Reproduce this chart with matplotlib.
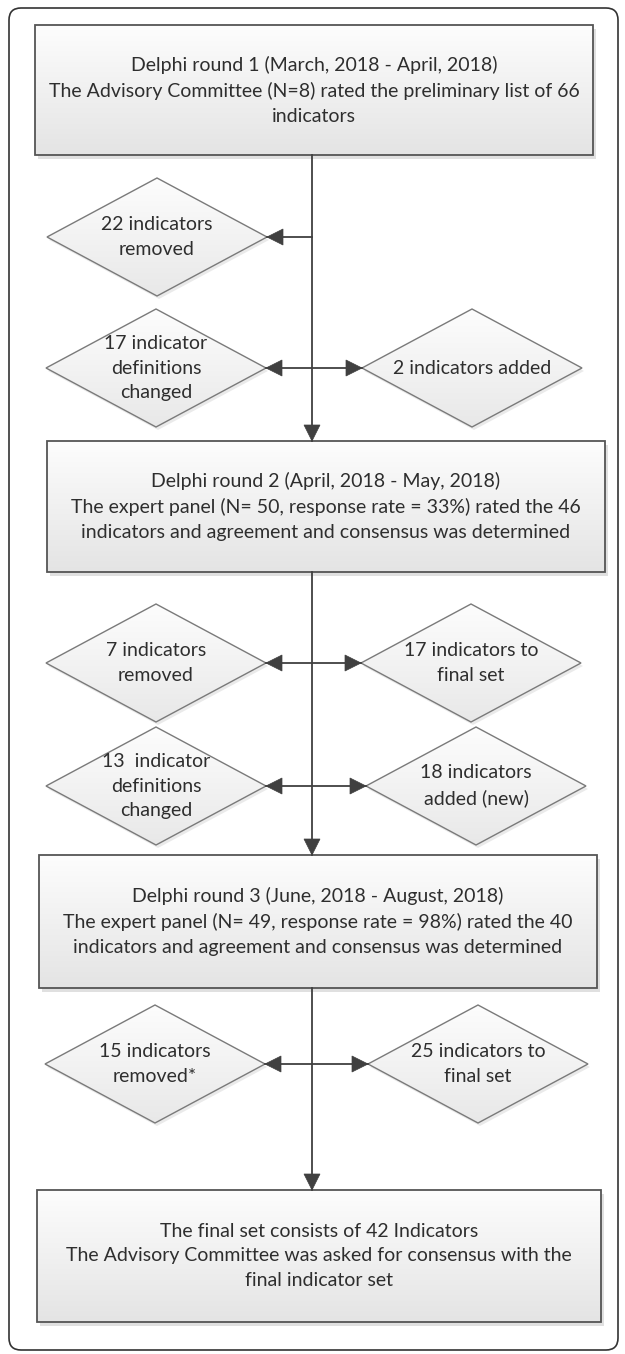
import numpy as np
import matplotlib.pyplot as plt
from matplotlib.patches import Polygon, FancyBboxPatch, Rectangle
from matplotlib.colors import LinearSegmentedColormap

plt.rcParams['font.family'] = ['Lato', 'DejaVu Sans']

# texts of the four round boxes
round_texts = [
    "Delphi round 1 (March, 2018 - April, 2018)\n"
    "The Advisory Committee (N=8) rated the preliminary list of 66\n"
    "indicators",
    "Delphi round 2 (April, 2018 - May, 2018)\n"
    "The expert panel (N= 50, response rate = 33%) rated the 46\n"
    "indicators and agreement and consensus was determined",
    "Delphi round 3 (June, 2018 - August, 2018)\n"
    "The expert panel (N= 49, response rate = 98%) rated the 40\n"
    "indicators and agreement and consensus was determined",
    "The final set consists of 42 Indicators\n"
    "The Advisory Committee was asked for consensus with the\n"
    "final indicator set",
]

# texts of the decision diamonds
left_texts = ["22 indicators\nremoved", "17 indicator\ndefinitions\nchanged",
              "7 indicators\nremoved", "13  indicator\ndefinitions\nchanged",
              "15 indicators\nremoved*"]
right_texts = [None, "2 indicators added", "17 indicators to\nfinal set",
               "18 indicators\nadded (new)", "25 indicators to\nfinal set"]

# layout in pixels (x0, y0, x1, y1)
box_pos = [(35, 25, 593, 155), (47, 441, 605, 572), (39, 855, 597, 988), (37, 1190, 601, 1322)]
left_pos = [(157, 237), (156, 368), (156, 663), (156, 786), (155, 1064)]
right_pos = [None, (472, 368), (471, 663), (476, 786), (478, 1064)]
hw, hh = 110, 59
xc = 312

W, H = 625, 1354
fig = plt.figure(figsize=(W / 100, H / 100), dpi=100)
ax = fig.add_axes([0, 0, 1, 1])
ax.set_xlim(0, W)
ax.set_ylim(H, 0)
ax.axis('off')

grad = np.linspace(0, 1, 256).reshape(-1, 1)
box_cmap = LinearSegmentedColormap.from_list('b', ['#fdfdfd', '#e4e4e4'])
dia_cmap = LinearSegmentedColormap.from_list('d', ['#fdfdfd', '#e8e8e8'])
txt_color = '#2e2e2e'
fs = 14
lsp = 1.55

# outer frame
frame = FancyBboxPatch((9, 8), 609, 1342, boxstyle='round,pad=0,rounding_size=12',
                       fill=False, ec='#333333', lw=1.2, zorder=1)
ax.add_patch(frame)


def arrow_head(x, y, direction):
    L, w = 16, 8
    if direction == 'down':
        pts = [(x, y), (x - w, y - L), (x + w, y - L)]
    elif direction == 'left':
        pts = [(x, y), (x + L, y - w), (x + L, y + w)]
    else:
        pts = [(x, y), (x - L, y - w), (x - L, y + w)]
    ax.add_patch(Polygon(pts, closed=True, fc='#404040', ec='#404040', lw=0.5, zorder=6))


# boxes
for (x0, y0, x1, y1), txt in zip(box_pos, round_texts):
    ax.add_patch(Rectangle((x0 + 3, y0 + 4), x1 - x0, y1 - y0, fc='#bbbbbb', ec='none',
                           alpha=0.45, zorder=2))
    rect = Rectangle((x0, y0), x1 - x0, y1 - y0, fc='none', ec='#555555', lw=1.3, zorder=4)
    ax.add_patch(rect)
    im = ax.imshow(grad, extent=(x0, x1, y1, y0), cmap=box_cmap, aspect='auto', zorder=3)
    im.set_clip_path(rect)
    ax.text((x0 + x1) / 2, (y0 + y1) / 2, txt, ha='center', va='center', fontsize=fs,
            color=txt_color, linespacing=lsp, zorder=5)


def diamond(cx, cy, txt):
    pts = [(cx, cy - hh), (cx + hw, cy), (cx, cy + hh), (cx - hw, cy)]
    sh = Polygon([(px + 2, py + 3) for px, py in pts], closed=True, fc='#cccccc', ec='none',
                 alpha=0.4, zorder=2)
    ax.add_patch(sh)
    poly = Polygon(pts, closed=True, fc='none', ec='#7a7a7a', lw=1.0, zorder=4)
    ax.add_patch(poly)
    im = ax.imshow(grad, extent=(cx - hw, cx + hw, cy + hh, cy - hh), cmap=dia_cmap,
                   aspect='auto', zorder=3)
    im.set_clip_path(poly)
    ax.text(cx, cy, txt, ha='center', va='center', fontsize=fs, color=txt_color,
            linespacing=lsp, zorder=5)


for (lp, lt), (rp, rt) in zip(zip(left_pos, left_texts), zip(right_pos, right_texts)):
    diamond(lp[0], lp[1], lt)
    y = lp[1]
    if rp is None:
        ax.plot([xc, lp[0] + hw], [y, y], color='#404040', lw=1.3, zorder=5)
        arrow_head(lp[0] + hw, y, 'left')
    else:
        diamond(rp[0], rp[1], rt)
        ax.plot([lp[0] + hw, rp[0] - hw], [y, y], color='#404040', lw=1.3, zorder=5)
        arrow_head(lp[0] + hw, y, 'left')
        arrow_head(rp[0] - hw, y, 'right')

# main vertical connectors
for i in range(3):
    y0 = box_pos[i][3]
    y1 = box_pos[i + 1][1]
    ax.plot([xc, xc], [y0, y1], color='#404040', lw=1.3, zorder=5)
    arrow_head(xc, y1, 'down')

fig.savefig('out.png', dpi=100)
